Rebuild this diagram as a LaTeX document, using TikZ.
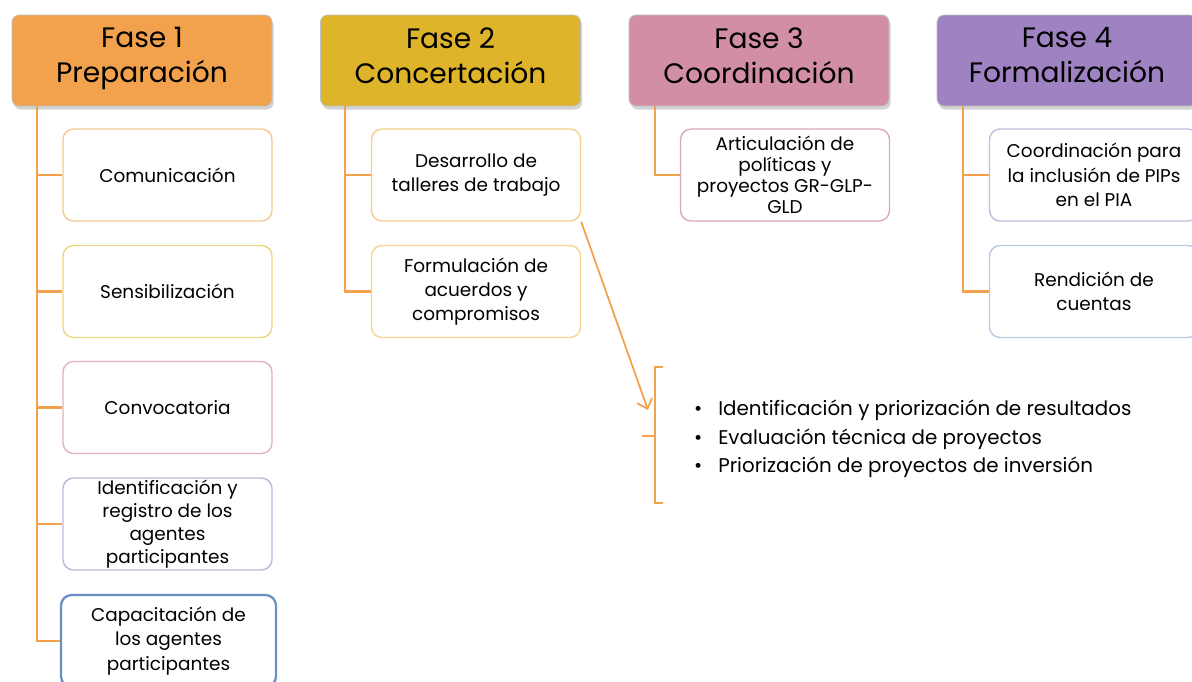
\documentclass[tikz,border=0pt]{standalone}
\usepackage{fontspec}
\setmainfont{Poppins}
\usetikzlibrary{positioning,arrows.meta,shadows}

\definecolor{naranja}{HTML}{F2A24C}
\definecolor{mostaza}{HTML}{DEB42A}
\definecolor{rosa}{HTML}{D28EA2}
\definecolor{lila}{HTML}{9E82C2}

\begin{document}
\begin{tikzpicture}[x=0.02cm,y=-0.02cm,
	fase/.style={rounded corners=4pt,minimum width=5.2cm,minimum height=1.82cm,align=center,draw=black!25,font=\fontsize{16}{20}\selectfont,execute at begin node=\strut,execute at end node=\strut,drop shadow={opacity=0.35,shadow xshift=1pt,shadow yshift=-2pt}},
	caja/.style={rounded corners=6pt,fill=white,minimum width=4.18cm,minimum height=1.84cm,align=center,draw,line width=0.8pt,font=\fontsize{10.5}{13.8}\selectfont},
	rama/.style={draw=naranja,line width=1.3pt}]
	\useasboundingbox (0,0) rectangle (1192,682);

	%fases
	\node (f1) at (142,60.5) [fase,fill=naranja] {Fase 1\\Preparación};
	\node (f2) at (450.5,60.5) [fase,fill=mostaza] {Fase 2\\Concertación};
	\node (f3) at (759,60.5) [fase,fill=rosa] {Fase 3\\Coordinación};
	\node (f4) at (1067,60.5) [fase,fill=lila] {Fase 4\\Formalización};

	%fase 1
	\node (com) at (167.5,175) [caja,draw=naranja!60] {Comunicación};
	\node (sen) at (167.5,291.5) [caja,draw={rgb,255:red,236;green,214;blue,128}] {Sensibilización};
	\node (conv) at (167.5,407.5) [caja,draw={rgb,255:red,226;green,178;blue,190}] {Convocatoria};
	\node (ident) at (167.5,524) [caja,draw={rgb,255:red,196;green,180;blue,218},inner ysep=0pt,font=\fontsize{10.5}{13.2}\selectfont] {Identificación y\\registro de los\\agentes\\participantes};
	\node (capa) at (168.5,641) [caja,draw={rgb,255:red,104;green,142;blue,196},line width=1.3pt,minimum width=4.3cm] {Capacitación de\\los agentes\\participantes};

	%fase 2
	\node (talleres) at (476,175) [caja,draw={rgb,255:red,245;green,206;blue,140}] {Desarrollo de\\talleres de trabajo};
	\node (acuerdos) at (476,291.5) [caja,draw={rgb,255:red,245;green,214;blue,140}] {Formulación de\\acuerdos y\\compromisos};

	%fase 3
	\node (artic) at (785,175) [caja,draw={rgb,255:red,218;green,168;blue,184},font=\fontsize{10.5}{12}\selectfont] {Articulación de\\políticas y\\proyectos GR-GLP-\\GLD};

	%fase 4
	\node (pips) at (1094,175) [caja,draw={rgb,255:red,198;green,186;blue,222}] {Coordinación para\\la inclusión de PIPs\\en el PIA};
	\node (cuentas) at (1094,291.5) [caja,draw={rgb,255:red,184;green,202;blue,228}] {Rendición de\\cuentas};

	%ramas
	\path[rama] ([xshift=0.5cm]f1.south west) |- (com.west);
	\path[rama] ([xshift=0.5cm]f1.south west) |- (sen.west);
	\path[rama] ([xshift=0.5cm]f1.south west) |- (conv.west);
	\path[rama] ([xshift=0.5cm]f1.south west) |- (ident.west);
	\path[rama] ([xshift=0.5cm]f1.south west) |- (capa.west);
	\path[rama] ([xshift=0.5cm]f2.south west) |- (talleres.west);
	\path[rama] ([xshift=0.5cm]f2.south west) |- (acuerdos.west);
	\path[rama] ([xshift=0.52cm]f3.south west) |- (artic.west);
	\path[rama] ([xshift=0.52cm]f4.south west) |- (pips.west);
	\path[rama] ([xshift=0.52cm]f4.south west) |- (cuentas.west);

	%lista de talleres
	\node (lista) at (688,439) [anchor=west,align=left,font=\fontsize{11.3}{16.2}\selectfont] {•\hspace{0.8em}Identificación y priorización de resultados\\•\hspace{0.8em}Evaluación técnica de proyectos\\•\hspace{0.8em}Priorización de proyectos de inversión};
	\coordinate (llave) at (655,436);
	\coordinate (punta) at (648,410);
	\draw[naranja,line width=1pt] (663,367) -| (llave) |- (663,503);
	\draw[naranja,line width=1pt] (llave) -- ++(-13,0);
	\draw[naranja,line width=1pt,-{Straight Barb[length=5pt,width=9pt]}] (talleres.south east) -- (punta);
\end{tikzpicture}
\end{document}
